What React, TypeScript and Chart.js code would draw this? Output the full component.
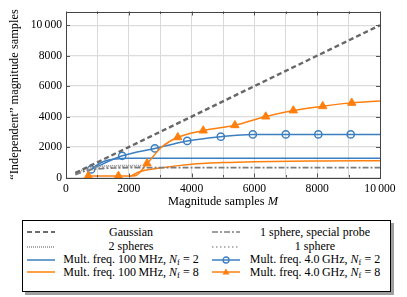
import React, { useEffect, useRef } from 'react';
import { Chart, registerables } from 'chart.js';

Chart.register(...registerables);

// ---------- data ----------
const yTickValues = [0, 2000, 4000, 6000, 8000, 10000];
const yTickLabels = ['0', '2000', '4000', '6000', '8000', '10\u2009000'];
const xTickValues = [0, 2000, 4000, 6000, 8000, 10000];
const xTickLabels = ['0', '2000', '4000', '6000', '8000', '10\u2009000'];

const gaussianM = [300, 10000];
const gaussianV = [300, 10000];

const probeM = [300, 600, 1000, 1500, 2000, 3000, 10000];
const probeV = [180, 420, 560, 620, 640, 650, 650];

const twoSpheresM = [300, 600, 1000, 1500, 2000, 2400];
const twoSpheresV = [280, 560, 720, 770, 780, 780];

const oneSphereM = [300, 600, 1000, 1500, 2000, 2400];
const oneSphereV = [220, 480, 620, 680, 700, 700];

const mf100n2M = [700, 900, 1200, 1600, 2000, 10000];
const mf100n2V = [400, 700, 1050, 1220, 1260, 1260];

const mf100n8M = [2000, 2300, 3000, 4000, 5000, 6000, 8000, 10000];
const mf100n8V = [30, 350, 620, 870, 980, 1040, 1085, 1100];

const mf4n2M = [800, 1790, 2830, 3860, 4930, 5950, 7000, 8035, 9067, 10000];
const mf4n2V = [530, 1425, 1910, 2400, 2680, 2830, 2830, 2830, 2830, 2830];
const mf4n2Marked = [1, 1, 1, 1, 1, 1, 1, 1, 1, 0];

const mf4n8M = [710, 1670, 2200, 2580, 3050, 3560, 4370, 5380, 6360, 7240, 8175, 9100, 10000];
const mf4n8V = [100, 100, 120, 920, 2000, 2640, 3080, 3430, 4000, 4400, 4680, 4900, 5030];
const mf4n8Marked = [1, 1, 0, 1, 0, 1, 1, 1, 1, 1, 1, 1, 0];

const BLUE = '#3b7fc0';
const ORANGE = '#ff7f0e';
const FONT = "'Liberation Serif', 'Times New Roman', serif";
const TITLE_SIZE = 12.4;

const pts = (xs: number[], ys: number[]) => xs.map((x, i) => ({ x, y: ys[i] }));

const framePlugin = {
  id: 'frame',
  afterDatasetsDraw(chart: any) {
    const { ctx, chartArea: a, scales } = chart;
    ctx.save();
    ctx.strokeStyle = '#555';
    ctx.lineWidth = 1;
    for (let v = 0; v <= 10000; v += 1000) {
      const px = Math.round(scales.x.getPixelForValue(v)) + 0.5;
      const len = v % 2000 === 0 ? 4 : 2.5;
      ctx.beginPath();
      ctx.moveTo(px, a.bottom);
      ctx.lineTo(px, a.bottom - len);
      ctx.moveTo(px, a.top);
      ctx.lineTo(px, a.top + len);
      ctx.stroke();
    }
    for (const v of yTickValues) {
      const py = Math.round(scales.y.getPixelForValue(v)) + 0.5;
      ctx.beginPath();
      ctx.moveTo(a.left, py);
      ctx.lineTo(a.left + 4, py);
      ctx.moveTo(a.right, py);
      ctx.lineTo(a.right - 4, py);
      ctx.stroke();
    }
    ctx.strokeStyle = '#444';
    ctx.strokeRect(Math.round(a.left) + 0.5, Math.round(a.top) + 0.5, Math.round(a.right - a.left), Math.round(a.bottom - a.top));
    ctx.restore();
  },
  afterDraw(chart: any) {
    const { ctx, chartArea: a } = chart;
    ctx.save();
    ctx.fillStyle = '#000';
    ctx.textBaseline = 'middle';
    const part1 = 'Magnitude samples ';
    const part2 = 'M';
    ctx.font = `${TITLE_SIZE}px ${FONT}`;
    const w1 = ctx.measureText(part1).width;
    ctx.font = `italic ${TITLE_SIZE}px ${FONT}`;
    const w2 = ctx.measureText(part2).width;
    const cx = (a.left + a.right) / 2;
    const x0 = cx - (w1 + w2) / 2;
    ctx.font = `${TITLE_SIZE}px ${FONT}`;
    ctx.textAlign = 'left';
    ctx.fillText(part1, x0, 202);
    ctx.font = `italic ${TITLE_SIZE}px ${FONT}`;
    ctx.fillText(part2, x0 + w1, 202);
    ctx.restore();
  },
};

function Sample({ kind }: { kind: string }) {
  const w = 28;
  const h = 10;
  const y = 5;
  let el: any = null;
  if (kind === 'gauss') el = <line x1={0} y1={y} x2={w} y2={y} stroke="#6b6b6b" strokeWidth={2.2} strokeDasharray="5 3" />;
  else if (kind === 'probe') el = <line x1={0} y1={y} x2={w} y2={y} stroke="#808080" strokeWidth={1.6} strokeDasharray="6 2 2 2" />;
  else if (kind === 'two') el = <line x1={0} y1={y} x2={w} y2={y} stroke="#8a8a8a" strokeWidth={1.6} strokeDasharray="1 1" />;
  else if (kind === 'one') el = <line x1={0} y1={y} x2={w} y2={y} stroke="#9a9a9a" strokeWidth={1.6} strokeDasharray="1.5 2.5" />;
  else if (kind === 'blue') el = <line x1={0} y1={y} x2={w} y2={y} stroke={BLUE} strokeWidth={1.5} />;
  else if (kind === 'orange') el = <line x1={0} y1={y} x2={w} y2={y} stroke={ORANGE} strokeWidth={1.5} />;
  else if (kind === 'blueO')
    el = (
      <g>
        <line x1={0} y1={y} x2={w} y2={y} stroke={BLUE} strokeWidth={1.5} />
        <circle cx={w / 2} cy={y} r={3} fill="none" stroke={BLUE} strokeWidth={1.3} />
      </g>
    );
  else if (kind === 'orangeT')
    el = (
      <g>
        <line x1={0} y1={y} x2={w} y2={y} stroke={ORANGE} strokeWidth={1.5} />
        <polygon points={`${w / 2 - 3.5},${y + 2.5} ${w / 2 + 3.5},${y + 2.5} ${w / 2},${y - 3.5}`} fill={ORANGE} />
      </g>
    );
  return (
    <svg width={w} height={h} style={{ display: 'block' }}>
      {el}
    </svg>
  );
}

const Nf = (n: number) => (
  <span>
    <i>N</i>
    <sub style={{ fontSize: '8.5px', verticalAlign: '-2px', lineHeight: 0 }}>f</sub>
    {' = ' + n}
  </span>
);

export default function App() {
  const ref = useRef<HTMLCanvasElement>(null);

  useEffect(() => {
    if (!ref.current) return;
    const common = { cubicInterpolationMode: 'monotone' as const, pointRadius: 0, fill: false };
    const chart = new Chart(ref.current, {
      type: 'line',
      data: {
        datasets: [
          { label: 'Gaussian', data: pts(gaussianM, gaussianV), borderColor: '#676767', borderWidth: 2.4, borderDash: [5, 3], ...common },
          { label: '1 sphere, special probe', data: pts(probeM, probeV), borderColor: '#7c7c7c', borderWidth: 1.6, borderDash: [6, 2, 2, 2], ...common },
          { label: '2 spheres', data: pts(twoSpheresM, twoSpheresV), borderColor: '#8a8a8a', borderWidth: 1.6, borderDash: [1, 1], ...common },
          { label: '1 sphere', data: pts(oneSphereM, oneSphereV), borderColor: '#9a9a9a', borderWidth: 1.6, borderDash: [1.5, 2.5], ...common },
          { label: 'Mult. freq. 4.0 GHz, Nf = 8', data: pts(mf4n8M, mf4n8V), borderColor: ORANGE, backgroundColor: ORANGE, borderWidth: 1.5, cubicInterpolationMode: 'monotone', fill: false, pointStyle: 'triangle', pointRadius: mf4n8Marked.map((m) => (m ? 4.8 : 0)), pointBorderWidth: 1, clip: false },
          { label: 'Mult. freq. 4.0 GHz, Nf = 2', data: pts(mf4n2M, mf4n2V), borderColor: BLUE, backgroundColor: 'rgba(0,0,0,0)', borderWidth: 1.5, cubicInterpolationMode: 'monotone', fill: false, pointStyle: 'circle', pointRadius: mf4n2Marked.map((m) => (m ? 3.6 : 0)), pointBorderWidth: 1.5 },
          { label: 'Mult. freq. 100 MHz, Nf = 8', data: pts(mf100n8M, mf100n8V), borderColor: ORANGE, borderWidth: 1.5, ...common },
          { label: 'Mult. freq. 100 MHz, Nf = 2', data: pts(mf100n2M, mf100n2V), borderColor: BLUE, borderWidth: 1.5, ...common },
        ] as any,
      },
      options: {
        animation: false,
        responsive: false,
        maintainAspectRatio: false,
        layout: { padding: { left: 0, right: 27, top: 11.5, bottom: 0 } },
        plugins: { legend: { display: false }, tooltip: { enabled: false } },
        scales: {
          x: {
            type: 'linear',
            min: 0,
            max: 10000,
            afterFit: (s: any) => {
              s.height = 37.5;
            },
            grid: { color: '#d9d9d9', lineWidth: 1, drawTicks: false },
            border: { display: false },
            ticks: {
              stepSize: 1000,
              padding: 4,
              color: '#000',
              maxRotation: 0,
              autoSkip: false,
              font: { family: FONT, size: 11.6 },
              callback: (v: any) => {
                const i = xTickValues.indexOf(Number(v));
                return i >= 0 ? xTickLabels[i] : '';
              },
            },
          },
          y: {
            type: 'linear',
            min: 0,
            max: 10900,
            afterBuildTicks: (s: any) => {
              s.ticks = yTickValues.map((v) => ({ value: v }));
            },
            afterFit: (s: any) => {
              s.width = 66;
            },
            grid: { color: '#dcdcdc', lineWidth: 1.3, drawTicks: false },
            border: { display: false },
            title: {
              display: true,
              text: '\u201CIndependent\u201D magnitude samples',
              color: '#000',
              font: { family: FONT, size: TITLE_SIZE },
              padding: { top: 7, bottom: 0 },
            },
            ticks: {
              padding: 4,
              color: '#000',
              font: { family: FONT, size: 11.6 },
              callback: (v: any) => {
                const i = yTickValues.indexOf(Number(v));
                return i >= 0 ? yTickLabels[i] : '';
              },
            },
          },
        },
      },
      plugins: [framePlugin],
    });
    return () => chart.destroy();
  }, []);

  const textStyle: React.CSSProperties = {
    position: 'absolute',
    fontFamily: FONT,
    fontSize: '12px',
    lineHeight: '13px',
    whiteSpace: 'nowrap',
    textAlign: 'center',
    color: '#000',
  };
  const rowsTop = [225.5, 240, 253, 265.5];
  const rows: Array<[string, any, string, any]> = [
    ['gauss', 'Gaussian', 'probe', '1 sphere, special probe'],
    ['two', '2 spheres', 'one', '1 sphere'],
    ['blue', <span>Mult. freq. 100{'\u2009'}MHz, {Nf(2)}</span>, 'blueO', <span>Mult. freq. 4.0{'\u2009'}GHz, {Nf(2)}</span>],
    ['orange', <span>Mult. freq. 100{'\u2009'}MHz, {Nf(8)}</span>, 'orangeT', <span>Mult. freq. 4.0{'\u2009'}GHz, {Nf(8)}</span>],
  ];

  return (
    <div style={{ position: 'fixed', left: 0, top: 0, width: 407, height: 297, background: '#fff' }}>
      <canvas ref={ref} width={407} height={215} style={{ position: 'absolute', left: 0, top: 0, width: 407, height: 215 }} />
      <div
        style={{
          position: 'absolute',
          left: 22,
          top: 219.5,
          width: 367,
          height: 70,
          border: '1px solid #000',
          boxShadow: '3px 3px 0 #a0a0a0',
          background: '#fff',
        }}
      />
      {rows.map((r, i) => (
        <React.Fragment key={i}>
          <div style={{ position: 'absolute', left: 27, top: rowsTop[i] + 1.5 }}>
            <Sample kind={r[0]} />
          </div>
          <div style={{ ...textStyle, left: 57, width: 148, top: rowsTop[i] }}>{r[1]}</div>
          <div style={{ position: 'absolute', left: 212, top: rowsTop[i] + 1.5 }}>
            <Sample kind={r[2]} />
          </div>
          <div style={{ ...textStyle, left: 243, width: 144, top: rowsTop[i] }}>{r[3]}</div>
        </React.Fragment>
      ))}
    </div>
  );
}
